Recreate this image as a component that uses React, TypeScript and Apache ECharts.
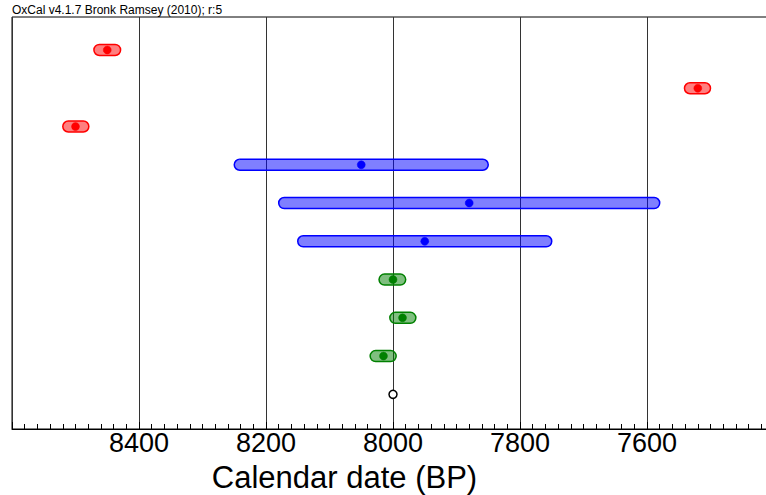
import React, { useEffect, useRef } from "react";
import * as echarts from "echarts";

// Date ranges (cal BP) for each row, top to bottom
const rangeOlder = [8471, 7541, 8520, 8250, 8180, 8150, 8022, 8005, 8036];
const rangeYounger = [8429, 7500, 8479, 7850, 7580, 7750, 7980, 7964, 7995];
const centres = [8450, 7520, 8500, 8050, 7880, 7950, 8000, 7985, 8015];
const groups = ["red", "red", "red", "blue", "blue", "blue", "green", "green", "green"];
const markerDate = 8000;
const markerRow = 9;

const xTicks = [8400, 8200, 8000, 7800, 7600];
const titleText = "OxCal v4.1.7 Bronk Ramsey (2010); r:5";
const axisTitle = "Calendar date (BP)";

const palette: Record<string, { fill: string; stroke: string; dot: string }> = {
  red: { fill: "rgba(255,0,0,0.5)", stroke: "#ff0000", dot: "#ff0000" },
  blue: { fill: "rgba(0,0,255,0.5)", stroke: "#0000ff", dot: "#0000ff" },
  green: { fill: "rgba(0,128,0,0.5)", stroke: "#008000", dot: "#008000" },
};

const FONT = "'Liberation Sans', Arial, sans-serif";

export default function App() {
  const ref = useRef<HTMLDivElement>(null);
  useEffect(() => {
    if (!ref.current) return;
    const chart = echarts.init(ref.current, null, { renderer: "svg" });

    const groupNames = ["red", "blue", "green"];
    const rangeSeries = groupNames.map((g) => {
      const data: number[][] = [];
      groups.forEach((gg, i) => {
        if (gg === g) data.push([rangeOlder[i], rangeYounger[i], centres[i], i]);
      });
      const col = palette[g];
      return {
        type: "custom",
        name: g,
        data,
        encode: { x: [0, 1, 2], y: 3 },
        renderItem: (params: any, api: any) => {
          const a = api.coord([api.value(0), api.value(3)]);
          const b = api.coord([api.value(1), api.value(3)]);
          const c = api.coord([api.value(2), api.value(3)]);
          const h = 11;
          const x = Math.min(a[0], b[0]);
          const w = Math.abs(b[0] - a[0]);
          return {
            type: "group",
            children: [
              {
                type: "rect",
                shape: { x, y: a[1] - h / 2, width: w, height: h, r: h / 2 },
                style: { fill: col.fill, stroke: col.stroke, lineWidth: 1.5 },
              },
              {
                type: "circle",
                shape: { cx: c[0], cy: c[1], r: 4 },
                style: { fill: col.dot, stroke: col.dot, lineWidth: 0.5 },
              },
            ],
          };
        },
      };
    });

    chart.setOption({
      animation: false,
      grid: {
        show: true,
        left: 12,
        top: 17,
        width: 762,
        height: 412,
        outerBoundsMode: "none",
        containLabel: false,
        borderColor: "#000",
        borderWidth: 1,
        backgroundColor: "transparent",
      },
      xAxis: {
        type: "value",
        inverse: true,
        min: 7400,
        max: 8600,
        interval: 200,
        axisLine: { show: true, onZero: false, lineStyle: { color: "#000", width: 1 } },
        axisTick: { show: true, inside: true, length: 7, lineStyle: { color: "#000" } },
        minorTick: { show: true, splitNumber: 10, length: 5, lineStyle: { color: "#000" } },
        splitLine: { show: true, lineStyle: { color: "#333", width: 1 } },
        axisLabel: {
          fontSize: 27,
          color: "#000",
          fontFamily: FONT,
          margin: 0,
          formatter: (v: number) => (xTicks.includes(v) ? String(v) : ""),
        },
      },
      yAxis: {
        type: "value",
        inverse: true,
        min: -0.862,
        max: 9.906,
        axisLine: { show: false },
        axisTick: { show: false },
        axisLabel: { show: false },
        splitLine: { show: false },
      },
      graphic: [
        {
          type: "text",
          left: 12,
          top: 4,
          style: { text: titleText, fontSize: 12, fontFamily: FONT, fill: "#000" },
        },
        {
          type: "text",
          x: 344.5,
          y: 477,
          style: {
            text: axisTitle,
            fontSize: 31,
            fontFamily: FONT,
            fill: "#000",
            align: "center",
            verticalAlign: "middle",
          },
        },
      ],
      series: [
        ...rangeSeries,
        {
          type: "scatter",
          data: [[markerDate, markerRow]],
          symbol: "circle",
          symbolSize: 8,
          itemStyle: { color: "#fff", borderColor: "#000", borderWidth: 1.5, opacity: 1 },
          z: 5,
        },
      ],
    });
    return () => chart.dispose();
  }, []);
  return (
    <div
      ref={ref}
      style={{ position: "fixed", left: 0, top: 0, width: 766, height: 495, background: "#fff" }}
    />
  );
}
